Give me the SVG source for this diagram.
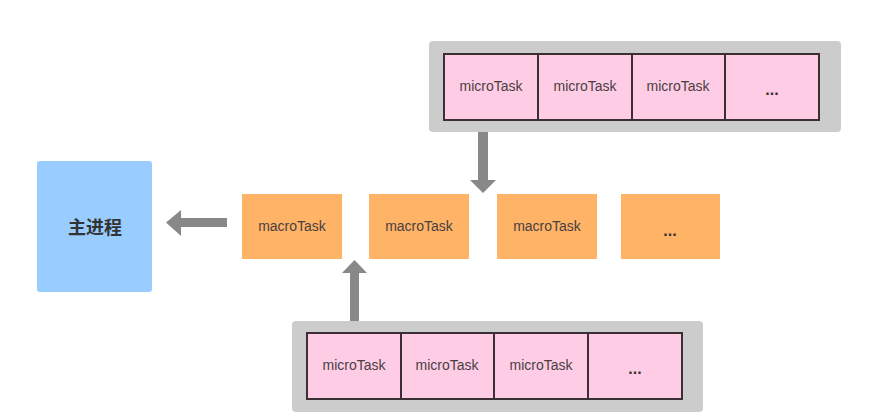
<svg xmlns="http://www.w3.org/2000/svg" width="877" height="415" viewBox="0 0 877 415">
<style>
.cont{fill:#cccccc}
.cell{fill:#ffcce6;stroke:#3a2f33;stroke-width:2}
.macro{fill:#ffb366}
.t{font-family:"Liberation Sans",Arial,sans-serif;font-size:14px;fill:#4a3f3f;text-anchor:middle;dominant-baseline:central}
.dots{font-family:"Liberation Sans",Arial,sans-serif;font-size:16px;font-weight:bold;fill:#3a2f2f;text-anchor:middle}
.main{fill:#99ccff}
.mt{font-family:"Noto Sans CJK SC","Noto Sans",sans-serif;font-size:18px;font-weight:bold;fill:#333;text-anchor:middle;dominant-baseline:central}
.arr{fill:#888888}
</style>
<rect width="877" height="415" fill="#ffffff"/>
<g id="main">
<rect class="main" x="37" y="161" width="115" height="131" rx="3"/>
<text class="mt" x="95" y="226">主进程</text>
</g>
<g id="micro-top">
<rect class="cont" x="429" y="41" width="412" height="91" rx="4"/>
<rect class="cell" x="444" y="54" width="94" height="66"/>
<rect class="cell" x="538" y="54" width="94" height="66"/>
<rect class="cell" x="632" y="54" width="93" height="66"/>
<rect class="cell" x="725" y="54" width="94" height="66"/>
<text class="t" x="491" y="86">microTask</text>
<text class="t" x="585" y="86">microTask</text>
<text class="t" x="678" y="86">microTask</text>
<text class="dots" x="772" y="95">...</text>
</g>
<g id="macro1"><rect class="macro" x="242" y="194" width="100" height="65"/><text class="t" x="292" y="226">macroTask</text></g>
<g id="macro2"><rect class="macro" x="369" y="194" width="100" height="65"/><text class="t" x="419" y="226">macroTask</text></g>
<g id="macro3"><rect class="macro" x="497" y="194" width="100" height="65"/><text class="t" x="547" y="226">macroTask</text></g>
<g id="macro4"><rect class="macro" x="621" y="194" width="99" height="65"/><text class="dots" x="670" y="236">...</text></g>
<g id="micro-bottom">
<rect class="cont" x="292" y="321" width="411" height="91" rx="4"/>
<rect class="cell" x="307" y="333" width="94" height="66"/>
<rect class="cell" x="401" y="333" width="93" height="66"/>
<rect class="cell" x="494" y="333" width="94" height="66"/>
<rect class="cell" x="588" y="333" width="94" height="66"/>
<text class="t" x="354" y="365">microTask</text>
<text class="t" x="447" y="365">microTask</text>
<text class="t" x="541" y="365">microTask</text>
<text class="dots" x="635" y="374">...</text>
</g>
<g id="connectors">
<polygon class="arr" points="227,218 181,218 181,210 166,222.5 181,236 181,227 227,227"/>
<polygon class="arr" points="478,132 478,180 470,180 483,193 496,180 488,180 488,132"/>
<polygon class="arr" points="350,321 350,273 342,273 354.5,260 367,273 359,273 359,321"/>
</g>
</svg>
